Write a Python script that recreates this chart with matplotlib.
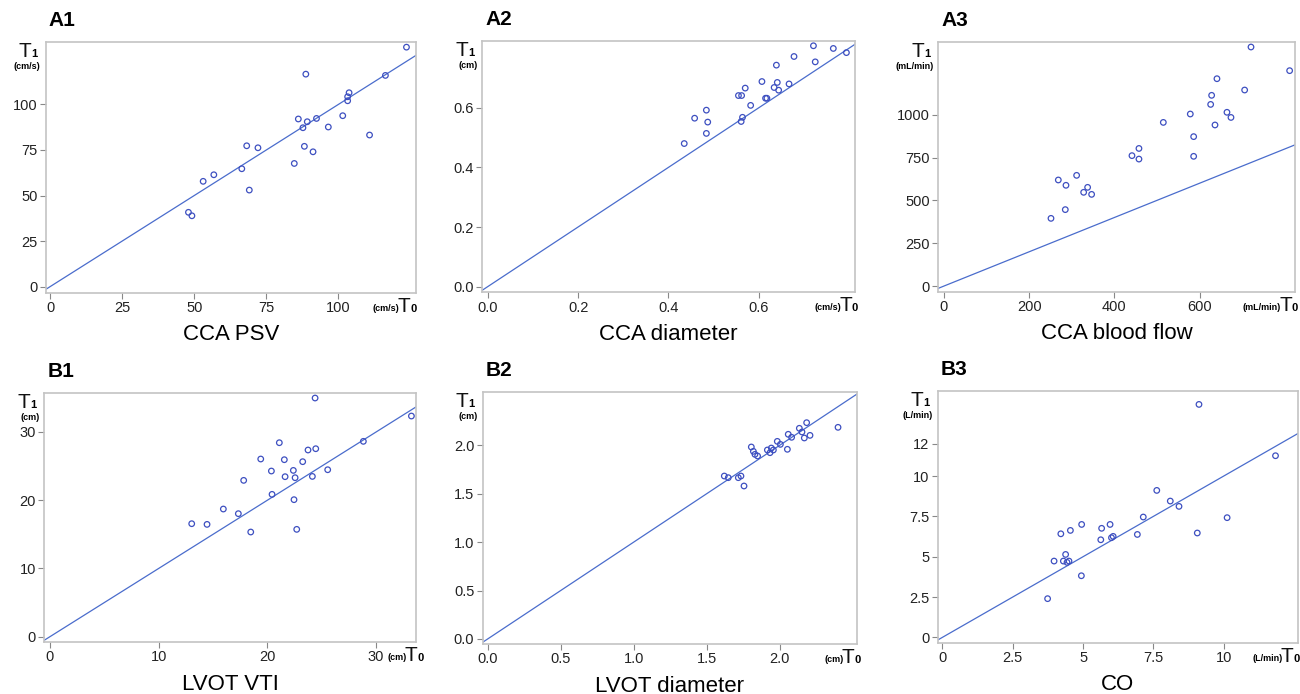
import matplotlib
matplotlib.use('Agg')
import matplotlib.pyplot as plt

plt.rcParams['font.family'] = ['Liberation Sans', 'DejaVu Sans']

# A1 - CCA PSV (cm/s)
a1_t0 = [123.6, 116.3, 88.7, 103.7, 103.2, 103.2, 101.5, 86.1, 92.4, 89.2, 87.7, 96.5,
         110.8, 68.2, 72.1, 88.2, 91.2, 84.7, 66.5, 56.8, 53.1, 69.1, 48.0, 49.2]
a1_t1 = [131.4, 115.9, 116.6, 106.4, 104.2, 102.0, 93.8, 92.0, 92.3, 90.5, 87.2, 87.6,
         83.2, 77.3, 76.2, 77.0, 74.0, 67.6, 64.7, 61.4, 57.8, 53.0, 40.8, 38.9]

# A2 - CCA diameter (cm)
a2_t0 = [0.721, 0.765, 0.794, 0.678, 0.725, 0.639, 0.607, 0.641, 0.667, 0.634, 0.644, 0.570,
         0.555, 0.562, 0.615, 0.618, 0.582, 0.484, 0.458, 0.487, 0.564, 0.561, 0.484, 0.435]
a2_t1 = [0.808, 0.799, 0.785, 0.772, 0.754, 0.743, 0.688, 0.685, 0.680, 0.668, 0.659, 0.666,
         0.641, 0.641, 0.632, 0.632, 0.608, 0.592, 0.565, 0.552, 0.568, 0.554, 0.514, 0.480]

# A3 - CCA blood flow (mL/min)
a3_t0 = [720.7, 811.4, 640.8, 705.8, 628.3, 626.0, 578.2, 664.3, 673.7, 514.9, 636.2, 586.1,
         457.7, 441.3, 457.7, 586.1, 311.4, 268.4, 286.4, 337.2, 327.9, 346.6, 284.8, 251.2]
a3_t1 = [1395, 1257, 1210, 1144, 1113, 1060, 1004, 1014, 984, 955, 940, 872,
         803, 761, 741, 757, 646, 619, 588, 576, 547, 535, 446, 395]

# B1 - LVOT VTI (cm)
b1_t0 = [24.39, 33.25, 28.83, 21.10, 23.74, 24.45, 19.39, 21.56, 23.25, 20.37, 22.39, 25.55,
         21.63, 22.55, 24.14, 17.82, 20.43, 22.45, 15.95, 17.33, 13.04, 14.45, 22.70, 18.47]
b1_t1 = [34.98, 32.34, 28.63, 28.43, 27.36, 27.55, 26.04, 25.94, 25.65, 24.28, 24.37, 24.47,
         23.45, 23.30, 23.49, 22.91, 20.86, 20.08, 18.71, 18.03, 16.56, 16.46, 15.73, 15.34]

# B2 - LVOT diameter (cm)
b2_t0 = [2.185, 2.135, 2.400, 2.153, 2.059, 2.082, 2.208, 2.169, 1.984, 2.005, 1.806, 2.053,
         1.916, 1.943, 1.957, 1.934, 1.820, 1.831, 1.849, 1.621, 1.648, 1.717, 1.735, 1.756]
b2_t1 = [2.234, 2.176, 2.186, 2.138, 2.114, 2.083, 2.103, 2.076, 2.041, 2.010, 1.983, 1.959,
         1.952, 1.972, 1.952, 1.924, 1.938, 1.907, 1.890, 1.683, 1.666, 1.666, 1.683, 1.580]

# B3 - CO (L/min)
b3_t0 = [9.12, 11.84, 7.62, 8.10, 8.41, 7.14, 10.12, 4.95, 5.96, 5.66, 4.55, 4.21,
         9.06, 6.93, 6.07, 6.01, 5.63, 4.38, 3.97, 4.30, 4.50, 4.43, 4.94, 3.74]
b3_t1 = [14.44, 11.26, 9.11, 8.45, 8.12, 7.46, 7.42, 7.00, 7.00, 6.76, 6.63, 6.42,
         6.47, 6.38, 6.26, 6.18, 6.05, 5.14, 4.73, 4.73, 4.73, 4.65, 3.82, 2.40]

panel_names = ['A1', 'A2', 'A3', 'B1', 'B2', 'B3']
titles = ['CCA PSV', 'CCA diameter', 'CCA blood flow', 'LVOT VTI', 'LVOT diameter', 'CO']
y_units = ['(cm/s)', '(cm)', '(mL/min)', '(cm)', '(cm)', '(L/min)']
x_units = ['(cm/s)', '(cm/s)', '(mL/min)', '(cm)', '(cm)', '(L/min)']
xs = [a1_t0, a2_t0, a3_t0, b1_t0, b2_t0, b3_t0]
ys = [a1_t1, a2_t1, a3_t1, b1_t1, b2_t1, b3_t1]

xticks = [[0, 25, 50, 75, 100], [0, 0.2, 0.4, 0.6], [0, 200, 400, 600],
          [0, 10, 20, 30], [0, 0.5, 1.0, 1.5, 2.0], [0, 2.5, 5, 7.5, 10]]
xticklabels = [['0', '25', '50', '75', '100'], ['0.0', '0.2', '0.4', '0.6'], ['0', '200', '400', '600'],
               ['0', '10', '20', '30'], ['0.0', '0.5', '1.0', '1.5', '2.0'], ['0', '2.5', '5', '7.5', '10']]
yticks = [[0, 25, 50, 75, 100], [0, 0.2, 0.4, 0.6], [0, 250, 500, 750, 1000],
          [0, 10, 20, 30], [0, 0.5, 1.0, 1.5, 2.0], [0, 2.5, 5, 7.5, 10, 12]]
yticklabels = [['0', '25', '50', '75', '100'], ['0.0', '0.2', '0.4', '0.6'], ['0', '250', '500', '750', '1000'],
               ['0', '10', '20', '30'], ['0.0', '0.5', '1.0', '1.5', '2.0'], ['0', '2.5', '5', '7.5', '10', '12']]
xlims = [(-1.5, 126.8), (-0.012, 0.813), (-13.3, 824), (-0.52, 33.7), (-0.034, 2.532), (-0.166, 12.65)]
ylims = [(-3.3, 134.4), (-0.019, 0.825), (-33, 1426), (-0.78, 35.76), (-0.052, 2.554), (-0.33, 15.29)]

# axes boxes in pixels: left, top, right, bottom
boxes = [(45.7, 41.7, 415.7, 292.7), (482.3, 40.7, 855, 292.3), (938.3, 41.7, 1295, 291.7),
         (44.3, 392.7, 416.3, 642), (482.7, 391.7, 857.3, 644), (937.7, 390.7, 1298.3, 642.7)]
# horizontal nudge of the T0 label group (px)
t0_shift = [0, 2, 2, 6, 2, 0]

W, H = 1300, 694
fig = plt.figure(figsize=(13, 6.94), dpi=100)

def fx(x):
    return x / W

def fy(y):
    return 1 - y / H

pt_color = '#3d4fc0'
line_color = '#4a6ccc'
frame_color = '#c4c4c4'

for i in range(6):
    l, t, r, b = boxes[i]
    ax = fig.add_axes([fx(l), fy(b), (r - l) / W, (b - t) / H])
    ax.scatter(xs[i], ys[i], s=16, facecolors='none', edgecolors=pt_color, linewidths=0.9, zorder=3)
    ax.axline((0, 0), slope=1, color=line_color, lw=0.9)
    ax.set_xlim(*xlims[i])
    ax.set_ylim(*ylims[i])
    ax.set_xticks(xticks[i])
    ax.set_xticklabels(xticklabels[i])
    ax.set_yticks(yticks[i])
    ax.set_yticklabels(yticklabels[i])
    ax.tick_params(labelsize=10.5, colors='#888888', labelcolor='#222222', length=4, width=0.8, pad=2)
    for sp in ax.spines.values():
        sp.set_color(frame_color)
        sp.set_linewidth(1.2)

    # panel label
    fig.text(fx(l + 3), fy(t - 12), panel_names[i], fontsize=15, fontweight='bold', ha='left', va='bottom')
    # x title
    fig.text(fx((l + r) / 2), fy(b + 42), titles[i], fontsize=16, ha='center', va='center')
    # T1 on y axis
    fig.text(fx(l - 14), fy(t + 15), 'T', fontsize=15, ha='right', va='baseline', color='#111111')
    fig.text(fx(l - 14), fy(t + 15), '1', fontsize=8, fontweight='bold', ha='left', va='baseline')
    fig.text(fx(l - 5), fy(t + 27), y_units[i], fontsize=6.5, fontweight='bold', ha='right', va='baseline')
    # T0 on x axis
    sx = r + t0_shift[i]
    fig.text(fx(sx - 5), fy(b + 19), 'T', fontsize=15, ha='right', va='baseline', color='#111111')
    fig.text(fx(sx - 5), fy(b + 19), '0', fontsize=8, fontweight='bold', ha='left', va='baseline')
    fig.text(fx(sx - 16), fy(b + 18), x_units[i], fontsize=6.5, fontweight='bold', ha='right', va='baseline')

fig.savefig('out.png', dpi=100)
